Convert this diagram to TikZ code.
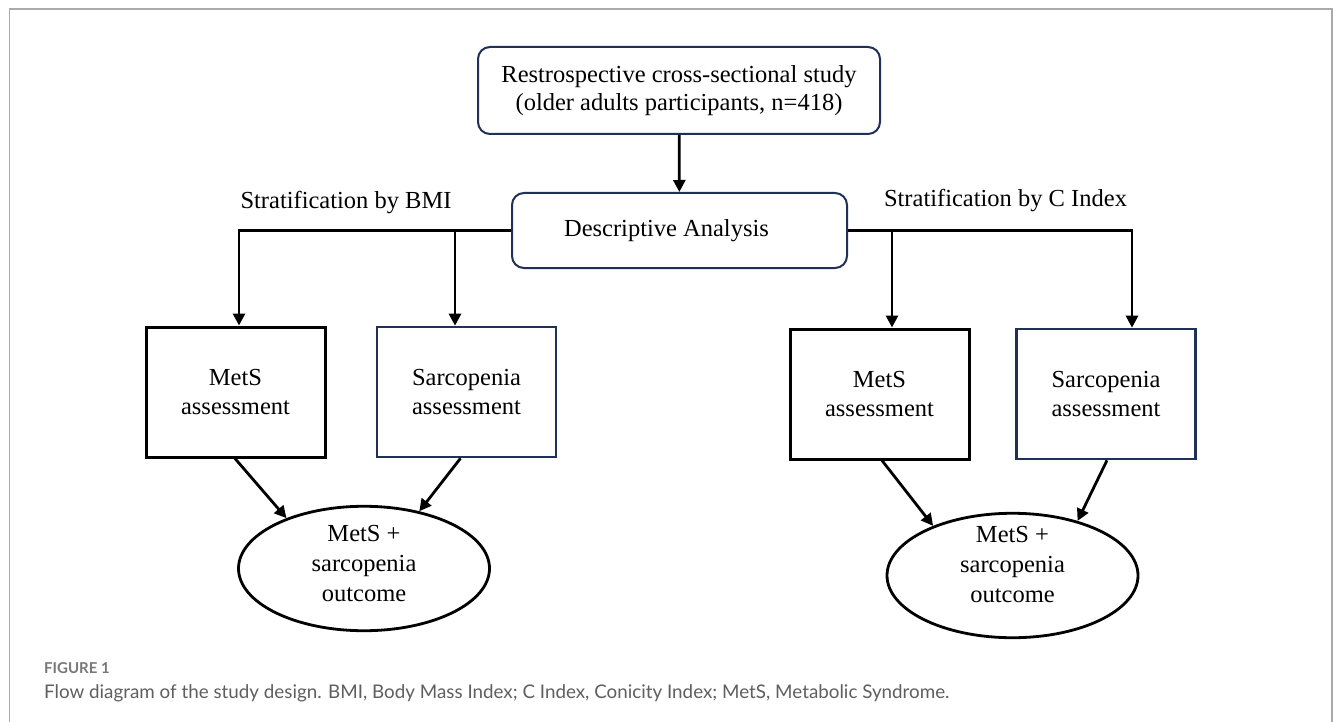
\documentclass[tikz,border=0pt]{standalone}
\usepackage{fontspec}
\setmainfont{Liberation Serif}
\newfontfamily\capfont{Lato}
\usetikzlibrary{arrows.meta,shapes.geometric}
\definecolor{navy}{RGB}{31,49,87}
\definecolor{framegray}{RGB}{170,170,170}
\definecolor{capgray}{RGB}{95,95,95}
\definecolor{figgray}{RGB}{120,120,120}
\newcommand{\uptext}[2]{\raisebox{#1}[\height][\depth]{\begin{tabular}{@{}c@{}}#2\end{tabular}}}
\tikzset{
  diag/.style={font=\fontsize{24.5}{28}\selectfont},
  roundbox/.style={draw=navy, line width=2pt, rounded corners=12pt, inner sep=0pt, align=center},
  blackbox/.style={draw=black, line width=3pt, inner sep=0pt, align=center, minimum width=179pt, minimum height=130pt},
  navybox/.style={draw=navy, line width=2.6pt, inner sep=0pt, align=center, minimum width=179pt, minimum height=130pt},
  outcome/.style={ellipse, draw=black, line width=2.8pt, inner sep=0pt, minimum width=251pt, minimum height=116pt},
  arr/.style={line width=2.8pt, -{Triangle[length=12pt,width=12pt]}},
  lbl/.style={anchor=base, inner sep=0pt}
}
\begin{document}
\begin{tikzpicture}[x=1pt, y=-1pt, diag]
\useasboundingbox (0,0) rectangle (1333,722);
\fill[white] (0,0) rectangle (1333,722);
% frame
\draw[framegray, line width=1.5pt] (9.5,722) -- (9.5,9) -- (1332,9) -- (1332,722);

% nodes
\node[roundbox, minimum width=402pt, minimum height=87pt] (top) at (679,90.5)
  {Restrospective cross-sectional study\\(older adults participants, n=418)};
\node[roundbox, minimum width=335pt, minimum height=75pt] (desc) at (679.5,230.5)
  {\hspace*{-26pt}Descriptive Analysis};

\node[lbl] (lblL) at (346,208) {Stratification by BMI};
\node[lbl] (lblR) at (1005.5,207) {Stratification by C Index};

\node[blackbox] (lm) at (235.5,392) {MetS\\[1.5pt]assessment};
\node[navybox] (ls) at (466.5,392) {Sarcopenia\\[1.5pt]assessment};
\node[blackbox] (rm) at (879.5,394) {MetS\\[1.5pt]assessment};
\node[navybox] (rs) at (1106,394) {Sarcopenia\\[1.5pt]assessment};

\node[outcome] (le) at (364,568.5) {\uptext{2.5pt}{MetS +\\[2pt]sarcopenia\\[2pt]outcome}};
\node[outcome] (re) at (1012.5,575.5) {\uptext{8.5pt}{MetS +\\[2pt]sarcopenia\\[2pt]outcome}};

% connectors
\draw[arr] (top) -- (desc);

\coordinate (lsin) at ([xshift=-11.5pt]ls.north);
\coordinate (rmin) at ([xshift=12.5pt]rm.north);
\draw[arr] (desc.west) -| ([xshift=3.5pt]lm.north);
\draw[arr] (lsin |- desc.west) -- (lsin);
\draw[arr] (desc.east) -| ([xshift=26pt]rs.north);
\draw[arr] (rmin |- desc.east) -- (rmin);

\draw[arr] ([xshift=-0.5pt]lm.south) -- (le.147);
\draw[arr] ([xshift=-6pt]ls.south) -- (le.46);
\draw[arr] ([xshift=2.5pt]rm.south) -- (re.148);
\draw[arr] ([xshift=1pt]rs.south) -- (re.40);

% caption
\node[anchor=base west, inner sep=0pt, text=figgray, font=\capfont\bfseries\fontsize{15}{18}\selectfont] (figlbl) at (44,673) {FIGURE 1};
\node[anchor=base west, inner sep=0pt, text=capgray, font=\capfont\fontsize{18.8}{22}\selectfont] (caption) at (44,698)
  {Flow diagram of the study design. BMI, Body Mass Index; C Index, Conicity Index; MetS, Metabolic Syndrome.};
\end{tikzpicture}
\end{document}
